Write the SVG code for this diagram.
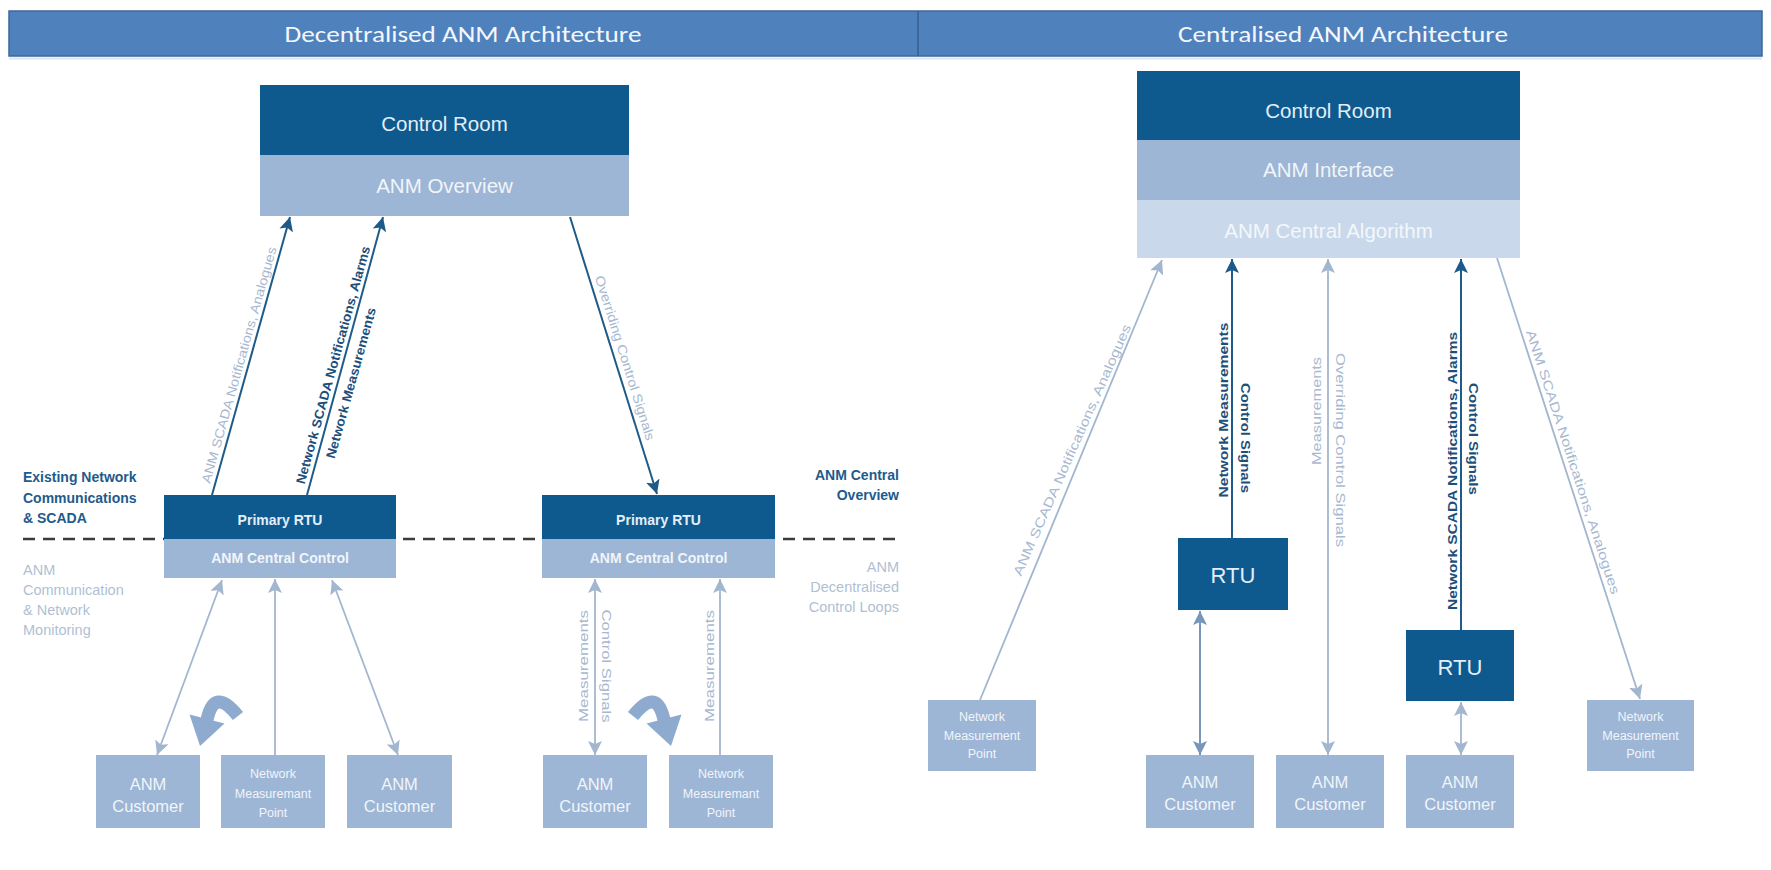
<svg xmlns="http://www.w3.org/2000/svg" width="1771" height="870" viewBox="0 0 1771 870">
  <defs>
    <style>
      .t { font-family: "Liberation Sans", Arial, Helvetica, sans-serif; text-anchor: middle; dominant-baseline: central; }
      .hdr { font-family: Carlito, Lato, "Liberation Sans", sans-serif; font-size: 22px; fill: #f3f7fc; text-anchor: middle; dominant-baseline: central; }
      .dark { fill: #0e5a8e; }
      .mid { fill: #9db6d5; }
      .pale { fill: #c9d8ea; }
      .big { font-size: 20.5px; }
      .onDark { fill: #e3eef8; }
      .onMid { fill: #f1f5fa; }
      .cust { font-size: 16.5px; fill: #f1f5fa; }
      .nmp { font-size: 12.5px; fill: #f1f5fa; }
      .rtu { font-size: 14px; font-weight: bold; }
      .side { font-family: "Liberation Sans", Arial, sans-serif; font-size: 14px; dominant-baseline: central; }
      .sideDark { font-weight: bold; fill: #1e5b8c; }
      .sideLight { font-size: 14.5px; fill: #b0bfd3; }
      .lblDark { font-weight: bold; fill: #1d4f7a; font-size: 13px; }
      .lblLight { fill: #a7b8d0; font-size: 13px; }
      .cDark { stroke: #1f5b88; stroke-width: 2; fill: none; }
      .cLight { stroke: #a3b6cf; stroke-width: 1.8; fill: none; }
      .cMid { stroke: #7895bb; stroke-width: 2; fill: none; }
    </style>
    <marker id="ahDark" markerUnits="userSpaceOnUse" markerWidth="14" markerHeight="14" viewBox="0 0 14 14" refX="14" refY="7" orient="auto-start-reverse">
      <path d="M0,0 L14,7 L0,14 L3,7 Z" fill="#1d5a8a"/>
    </marker>
    <marker id="ahLight" markerUnits="userSpaceOnUse" markerWidth="14" markerHeight="14" viewBox="0 0 14 14" refX="14" refY="7" orient="auto-start-reverse">
      <path d="M0,0 L14,7 L0,14 L3,7 Z" fill="#a3b6cf"/>
    </marker>
    <marker id="ahMid" markerUnits="userSpaceOnUse" markerWidth="14" markerHeight="14" viewBox="0 0 14 14" refX="14" refY="7" orient="auto-start-reverse">
      <path d="M0,0 L14,7 L0,14 L3,7 Z" fill="#7895bb"/>
    </marker>
    <!-- thick curled arrow used between the customer boxes -->
    <path id="curl" d="M238,716 Q214,686 207,720" stroke="#8eabcf" stroke-width="13" fill="none"/>
    <path id="curlHead" d="M224.5,723.5 L189.5,714.5 L200,746 Z" fill="#8eabcf"/>
  </defs>

  <rect width="1771" height="870" fill="#ffffff"/>

  <!-- header bar -->
  <g id="header">
    <rect x="9" y="11" width="1753" height="45" fill="#4f81bd" stroke="#3d6898" stroke-width="1.5"/>
    <line x1="918" y1="11" x2="918" y2="56" stroke="#355f8e" stroke-width="1.5"/>
    <line x1="9" y1="58.5" x2="1762" y2="58.5" stroke="#d8e7f4" stroke-width="2"/>
    <text class="hdr" x="463" y="34" textLength="357" lengthAdjust="spacingAndGlyphs">Decentralised ANM Architecture</text>
    <text class="hdr" x="1343" y="34" textLength="330" lengthAdjust="spacingAndGlyphs">Centralised ANM Architecture</text>
  </g>

  <!-- zone divider -->
  <line id="zone-divider" x1="23" y1="539" x2="900" y2="539" stroke="#3b3b3b" stroke-width="2.5" stroke-dasharray="12 8"/>

  <!-- side captions -->
  <g id="captions">
    <text class="side sideDark" x="23" y="477">Existing Network</text>
    <text class="side sideDark" x="23" y="498">Communications</text>
    <text class="side sideDark" x="23" y="518">&amp; SCADA</text>
    <text class="side sideLight" x="23" y="570">ANM</text>
    <text class="side sideLight" x="23" y="590">Communication</text>
    <text class="side sideLight" x="23" y="610">&amp; Network</text>
    <text class="side sideLight" x="23" y="630">Monitoring</text>
    <text class="side sideDark" x="899" y="475" text-anchor="end">ANM Central</text>
    <text class="side sideDark" x="899" y="495" text-anchor="end">Overview</text>
    <text class="side sideLight" x="899" y="567" text-anchor="end">ANM</text>
    <text class="side sideLight" x="899" y="587" text-anchor="end">Decentralised</text>
    <text class="side sideLight" x="899" y="607" text-anchor="end">Control Loops</text>
  </g>

  <!-- connectors -->
  <g id="connectors">
    <!-- decentralised: RTU to control room -->
    <line class="cDark" x1="212" y1="495" x2="290" y2="217" marker-end="url(#ahDark)"/>
    <line class="cDark" x1="307" y1="495" x2="383" y2="217" marker-end="url(#ahDark)"/>
    <line class="cDark" x1="570" y1="217" x2="657" y2="494" marker-end="url(#ahDark)"/>
    <!-- decentralised: customers to central control -->
    <line class="cLight" x1="222" y1="580" x2="157" y2="755" marker-start="url(#ahLight)" marker-end="url(#ahLight)"/>
    <line class="cLight" x1="275" y1="755" x2="275" y2="579" marker-end="url(#ahLight)"/>
    <line class="cLight" x1="332" y1="580" x2="398" y2="755" marker-start="url(#ahLight)" marker-end="url(#ahLight)"/>
    <line class="cLight" x1="595" y1="579" x2="595" y2="755" marker-start="url(#ahLight)" marker-end="url(#ahLight)"/>
    <line class="cLight" x1="720" y1="755" x2="720" y2="579" marker-end="url(#ahLight)"/>
    <!-- centralised -->
    <line class="cLight" x1="980" y1="700" x2="1162" y2="260" marker-end="url(#ahLight)"/>
    <line class="cDark" x1="1232" y1="538" x2="1232" y2="259" marker-end="url(#ahDark)"/>
    <line class="cMid" x1="1200" y1="611" x2="1200" y2="755" marker-start="url(#ahMid)" marker-end="url(#ahMid)"/>
    <line class="cLight" x1="1328" y1="259" x2="1328" y2="755" marker-start="url(#ahLight)" marker-end="url(#ahLight)"/>
    <line class="cDark" x1="1461" y1="630" x2="1461" y2="259" marker-end="url(#ahDark)"/>
    <line class="cLight" x1="1461" y1="702" x2="1461" y2="755" marker-start="url(#ahLight)" marker-end="url(#ahLight)"/>
    <line class="cLight" x1="1497" y1="258" x2="1640" y2="699" marker-end="url(#ahLight)"/>

    <!-- connector labels -->
    <text class="t lblLight" font-size="12" x="239" y="365" transform="rotate(-74.2 239 365)" textLength="245" lengthAdjust="spacingAndGlyphs">ANM SCADA Notifications, Analogues</text>
    <text class="t lblDark" font-size="12" x="333" y="365" transform="rotate(-74.5 333 365)" textLength="246" lengthAdjust="spacingAndGlyphs">Network SCADA Notifications, Alarms</text>
    <text class="t lblDark" font-size="12" x="351" y="383" transform="rotate(-74.5 351 383)" textLength="156" lengthAdjust="spacingAndGlyphs">Network Measurements</text>
    <text class="t lblLight" font-size="12" x="625" y="358" transform="rotate(72.5 625 358)" textLength="172" lengthAdjust="spacingAndGlyphs">Overriding Control Signals</text>

    <text class="t lblLight" font-size="11" x="583" y="666" transform="rotate(-90 583 666)" textLength="112" lengthAdjust="spacingAndGlyphs">Measurements</text>
    <text class="t lblLight" font-size="13.5" x="606" y="666" transform="rotate(90 606 666)" textLength="113" lengthAdjust="spacingAndGlyphs">Control Signals</text>
    <text class="t lblLight" font-size="11" x="709" y="666" transform="rotate(-90 709 666)" textLength="112" lengthAdjust="spacingAndGlyphs">Measurements</text>

    <text class="t lblLight" x="1072" y="450" transform="rotate(-66.2 1072 450)" textLength="273" lengthAdjust="spacingAndGlyphs">ANM SCADA Notifications, Analogues</text>
    <text class="t lblDark" x="1223" y="410" transform="rotate(-90 1223 410)" textLength="175" lengthAdjust="spacingAndGlyphs">Network Measurements</text>
    <text class="t lblDark" font-size="13.5" x="1245" y="438" transform="rotate(90 1245 438)" textLength="110" lengthAdjust="spacingAndGlyphs">Control Signals</text>
    <text class="t lblLight" font-size="11" x="1316" y="411" transform="rotate(-90 1316 411)" textLength="108" lengthAdjust="spacingAndGlyphs">Measurements</text>
    <text class="t lblLight" font-size="14" x="1340" y="450" transform="rotate(90 1340 450)" textLength="194" lengthAdjust="spacingAndGlyphs">Overriding Control Signals</text>
    <text class="t lblDark" font-size="13.5" x="1452" y="471" transform="rotate(-90 1452 471)" textLength="278" lengthAdjust="spacingAndGlyphs">Network SCADA Notifications, Alarms</text>
    <text class="t lblDark" font-size="13.5" x="1473" y="439" transform="rotate(90 1473 439)" textLength="112" lengthAdjust="spacingAndGlyphs">Control Signals</text>
    <text class="t lblLight" font-size="13.5" x="1573" y="462" transform="rotate(72 1573 462)" textLength="277" lengthAdjust="spacingAndGlyphs">ANM SCADA Notifications, Analogues</text>
  </g>

  <!-- curled arrows between customers -->
  <g id="curl-left">
    <use href="#curl"/>
    <use href="#curlHead"/>
  </g>
  <g id="curl-right" transform="translate(871 0) scale(-1 1)">
    <use href="#curl"/>
    <use href="#curlHead"/>
  </g>

  <!-- decentralised nodes -->
  <g id="control-room-left">
    <rect class="dark" x="260" y="85" width="369" height="70"/>
    <rect class="mid" x="260" y="155" width="369" height="61"/>
    <text class="t big onDark" x="444.5" y="123">Control Room</text>
    <text class="t big onMid" x="444.5" y="185">ANM Overview</text>
  </g>
  <g id="rtu-left">
    <rect class="dark" x="164" y="495" width="232" height="44"/>
    <rect class="mid" x="164" y="539" width="232" height="39"/>
    <text class="t rtu onDark" x="280" y="520">Primary RTU</text>
    <text class="t rtu onMid" x="280" y="558">ANM Central Control</text>
  </g>
  <g id="rtu-right">
    <rect class="dark" x="542" y="495" width="233" height="44"/>
    <rect class="mid" x="542" y="539" width="233" height="39"/>
    <text class="t rtu onDark" x="658.5" y="520">Primary RTU</text>
    <text class="t rtu onMid" x="658.5" y="558">ANM Central Control</text>
  </g>
  <g id="customer-l1">
    <rect class="mid" x="96" y="755" width="104" height="73"/>
    <text class="t cust" x="148" y="784">ANM</text>
    <text class="t cust" x="148" y="806">Customer</text>
  </g>
  <g id="nmp-l1">
    <rect class="mid" x="221" y="755" width="104" height="73"/>
    <text class="t nmp" x="273" y="774">Network</text>
    <text class="t nmp" x="273" y="794">Measuremant</text>
    <text class="t nmp" x="273" y="813">Point</text>
  </g>
  <g id="customer-l2">
    <rect class="mid" x="347" y="755" width="105" height="73"/>
    <text class="t cust" x="399.5" y="784">ANM</text>
    <text class="t cust" x="399.5" y="806">Customer</text>
  </g>
  <g id="customer-l3">
    <rect class="mid" x="543" y="755" width="104" height="73"/>
    <text class="t cust" x="595" y="784">ANM</text>
    <text class="t cust" x="595" y="806">Customer</text>
  </g>
  <g id="nmp-l2">
    <rect class="mid" x="669" y="755" width="104" height="73"/>
    <text class="t nmp" x="721" y="774">Network</text>
    <text class="t nmp" x="721" y="794">Measuremant</text>
    <text class="t nmp" x="721" y="813">Point</text>
  </g>

  <!-- centralised nodes -->
  <g id="control-room-right">
    <rect class="dark" x="1137" y="71" width="383" height="69"/>
    <rect class="mid" x="1137" y="140" width="383" height="60"/>
    <rect class="pale" x="1137" y="200" width="383" height="58"/>
    <text class="t big onDark" x="1328.5" y="110">Control Room</text>
    <text class="t big onMid" x="1328.5" y="169">ANM Interface</text>
    <text class="t big" fill="#f4f7fb" x="1328.5" y="230">ANM Central Algorithm</text>
  </g>
  <g id="rtu-c1">
    <rect class="dark" x="1178" y="538" width="110" height="72"/>
    <text class="t onDark" font-size="22" x="1233" y="575">RTU</text>
  </g>
  <g id="rtu-c2">
    <rect class="dark" x="1406" y="630" width="108" height="71"/>
    <text class="t onDark" font-size="22" x="1460" y="667">RTU</text>
  </g>
  <g id="nmp-c1">
    <rect class="mid" x="928" y="700" width="108" height="71"/>
    <text class="t nmp" x="982" y="717">Network</text>
    <text class="t nmp" x="982" y="736">Measurement</text>
    <text class="t nmp" x="982" y="754">Point</text>
  </g>
  <g id="customer-c1">
    <rect class="mid" x="1146" y="755" width="108" height="73"/>
    <text class="t cust" x="1200" y="782">ANM</text>
    <text class="t cust" x="1200" y="804">Customer</text>
  </g>
  <g id="customer-c2">
    <rect class="mid" x="1276" y="755" width="108" height="73"/>
    <text class="t cust" x="1330" y="782">ANM</text>
    <text class="t cust" x="1330" y="804">Customer</text>
  </g>
  <g id="customer-c3">
    <rect class="mid" x="1406" y="755" width="108" height="73"/>
    <text class="t cust" x="1460" y="782">ANM</text>
    <text class="t cust" x="1460" y="804">Customer</text>
  </g>
  <g id="nmp-c2">
    <rect class="mid" x="1587" y="700" width="107" height="71"/>
    <text class="t nmp" x="1640.5" y="717">Network</text>
    <text class="t nmp" x="1640.5" y="736">Measurement</text>
    <text class="t nmp" x="1640.5" y="754">Point</text>
  </g>
</svg>
